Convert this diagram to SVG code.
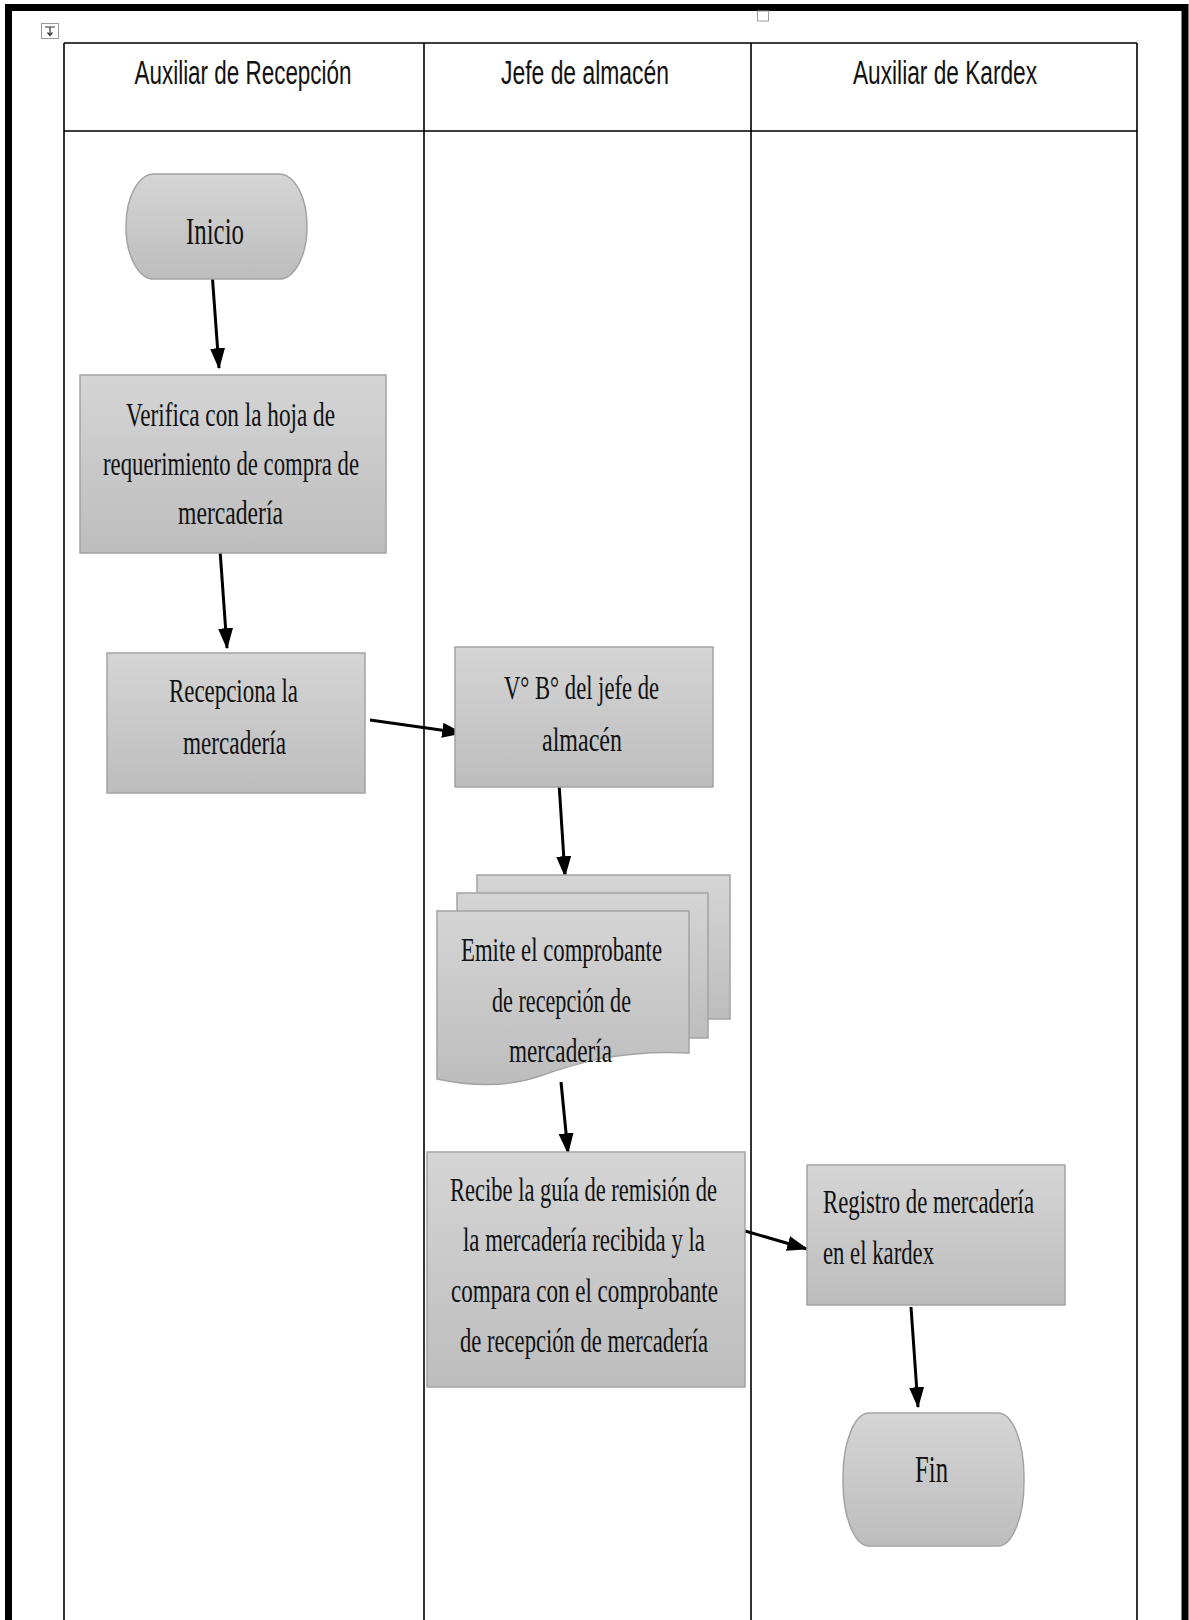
<svg xmlns="http://www.w3.org/2000/svg" width="1189" height="1620" viewBox="0 0 1189 1620">
  <defs>
    <linearGradient id="fillGray" x1="0" y1="0" x2="0" y2="1">
      <stop offset="0" stop-color="#d5d5d5"/>
      <stop offset="1" stop-color="#bdbdbd"/>
    </linearGradient>
    <marker id="head" markerWidth="7" markerHeight="5" refX="6.6" refY="2.5" orient="auto" markerUnits="strokeWidth">
      <path d="M0,0 L7,2.5 L0,5 Z" fill="#000"/>
    </marker>
  </defs>
  <style>
    .box { fill: url(#fillGray); stroke: #a3a3a3; stroke-width: 1.5; }
    .lane { fill: none; stroke: #000; stroke-width: 1.6; }
    .head { font-family: "Liberation Sans", Arial, sans-serif; font-size: 33px; fill: #111; text-anchor: middle; }
    .lbl { font-family: "Liberation Serif", "Times New Roman", serif; font-size: 33px; fill: #111; }
    .term { font-family: "Liberation Serif", "Times New Roman", serif; font-size: 38px; fill: #111; }
    .conn { fill: none; stroke: #000; stroke-width: 3; marker-end: url(#head); }
  </style>

  <rect width="1189" height="1620" fill="#fff"/>

  <!-- page frame -->
  <rect x="8.5" y="7.5" width="1176.5" height="1700" fill="none" stroke="#000" stroke-width="7"/>

  <!-- table move handle -->
  <g id="handle">
    <rect x="41.5" y="23.5" width="17" height="15" fill="#fff" stroke="#9a9a9a" stroke-width="1"/>
    <path d="M45 27 H55 M50 27 V35 M47.5 32.5 L50 35.5 L52.5 32.5" fill="none" stroke="#333" stroke-width="1.2"/>
  </g>
  <rect x="757.5" y="11" width="11" height="10" fill="#fff" stroke="#9a9a9a" stroke-width="1"/>

  <!-- swimlane table -->
  <g id="lanes">
    <path class="lane" d="M64 43 H1137 M64 131 H1137 M64 43 V1630 M424 43 V1630 M751 43 V1630 M1137 43 V1630"/>
    <text class="head" x="243" y="84" textLength="217" lengthAdjust="spacingAndGlyphs">Auxiliar de Recepción</text>
    <text class="head" x="585" y="84" textLength="168" lengthAdjust="spacingAndGlyphs">Jefe de almacén</text>
    <text class="head" x="945" y="84" textLength="184" lengthAdjust="spacingAndGlyphs">Auxiliar de Kardex</text>
  </g>

  <!-- connectors -->
  <g id="connectors">
    <line class="conn" x1="212" y1="272" x2="219" y2="368"/>
    <line class="conn" x1="220" y1="550" x2="227" y2="648"/>
    <line class="conn" x1="370" y1="720" x2="462" y2="733"/>
    <line class="conn" x1="559" y1="783" x2="565" y2="876"/>
    <line class="conn" x1="561" y1="1082" x2="568" y2="1153"/>
    <line class="conn" x1="745" y1="1231" x2="807" y2="1249"/>
    <line class="conn" x1="911" y1="1307" x2="918" y2="1407"/>
  </g>

  <g id="inicio">
    <rect class="box" x="126" y="174" width="181" height="105" rx="28" ry="52"/>
    <text class="term" x="186" y="244" textLength="58" lengthAdjust="spacingAndGlyphs">Inicio</text>
  </g>

  <g id="verifica">
    <rect class="box" x="80" y="375" width="306" height="178"/>
    <text class="lbl" x="126" y="426" textLength="209" lengthAdjust="spacingAndGlyphs">Verifica con la hoja de</text>
    <text class="lbl" x="103" y="475" textLength="256" lengthAdjust="spacingAndGlyphs">requerimiento de compra de</text>
    <text class="lbl" x="178" y="524" textLength="105" lengthAdjust="spacingAndGlyphs">mercadería</text>
  </g>

  <g id="recepciona">
    <rect class="box" x="107" y="653" width="258" height="140"/>
    <text class="lbl" x="169" y="702" textLength="129" lengthAdjust="spacingAndGlyphs">Recepciona la</text>
    <text class="lbl" x="183" y="754" textLength="103" lengthAdjust="spacingAndGlyphs">mercadería</text>
  </g>

  <g id="visto-bueno">
    <rect class="box" x="455" y="647" width="258" height="140"/>
    <text class="lbl" x="504" y="699" textLength="155" lengthAdjust="spacingAndGlyphs">V° B° del jefe de</text>
    <text class="lbl" x="542" y="751" textLength="80" lengthAdjust="spacingAndGlyphs">almacén</text>
  </g>

  <g id="comprobante">
    <rect class="box" x="477" y="875" width="253" height="144"/>
    <rect class="box" x="457" y="893" width="251" height="145"/>
    <path class="box" d="M437 911 H689 V1053 C620 1050 580 1062 540 1076 C505 1088 470 1086 437 1079 Z"/>
    <text class="lbl" x="461" y="961" textLength="201" lengthAdjust="spacingAndGlyphs">Emite el comprobante</text>
    <text class="lbl" x="492" y="1012" textLength="139" lengthAdjust="spacingAndGlyphs">de recepción de</text>
    <text class="lbl" x="509" y="1062" textLength="103" lengthAdjust="spacingAndGlyphs">mercadería</text>
  </g>

  <g id="recibe">
    <rect class="box" x="427" y="1152" width="318" height="235"/>
    <text class="lbl" x="450" y="1201" textLength="267" lengthAdjust="spacingAndGlyphs">Recibe la guía de remisión de</text>
    <text class="lbl" x="463" y="1251" textLength="242" lengthAdjust="spacingAndGlyphs">la mercadería recibida y la</text>
    <text class="lbl" x="451" y="1302" textLength="267" lengthAdjust="spacingAndGlyphs">compara con el comprobante</text>
    <text class="lbl" x="460" y="1352" textLength="248" lengthAdjust="spacingAndGlyphs">de recepción de mercadería</text>
  </g>

  <g id="registro">
    <rect class="box" x="807" y="1165" width="258" height="140"/>
    <text class="lbl" x="823" y="1213" textLength="211" lengthAdjust="spacingAndGlyphs">Registro de mercadería</text>
    <text class="lbl" x="823" y="1264" textLength="111" lengthAdjust="spacingAndGlyphs">en el kardex</text>
  </g>

  <g id="fin">
    <rect class="box" x="843" y="1413" width="181" height="133" rx="26" ry="64"/>
    <text class="term" x="915" y="1482" textLength="33" lengthAdjust="spacingAndGlyphs">Fin</text>
  </g>
</svg>
